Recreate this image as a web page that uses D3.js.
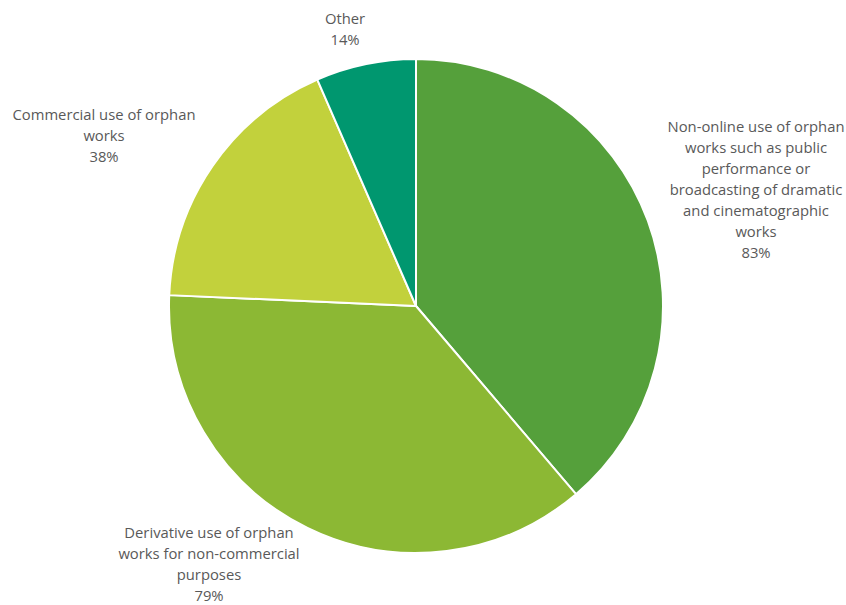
<!DOCTYPE html>
<html>
<head>
<meta charset="utf-8">
<script src="https://cdn.jsdelivr.net/npm/d3@7/dist/d3.min.js"></script>
<style>
html,body{margin:0;padding:0;background:#fff;}
text{font-family:"Open Sans","Liberation Sans",sans-serif;}
</style>
</head>
<body>
<svg id="chart" width="846" height="605"></svg>
<script>
const categories = [
  "Non-online use of orphan works such as public performance or broadcasting of dramatic and cinematographic works",
  "Derivative use of orphan works for non-commercial purposes",
  "Commercial use of orphan works",
  "Other"
];
const values = [83, 79, 38, 14];
const valueLabels = ["83%", "79%", "38%", "14%"];
const labelLines = [
  ["Non-online use of orphan", "works such as public", "performance or", "broadcasting of dramatic", "and cinematographic", "works"],
  ["Derivative use of orphan", "works for non-commercial", "purposes"],
  ["Commercial use of orphan", "works"],
  ["Other"]
];
const colors = ["#55A03B", "#8CB834", "#C2D13C", "#00976F"];

// layout
const cx = 416, cy = 306, r = 247;
const labelPos = [[756, 127], [209, 533], [104, 115], [345, 19]];
const lineH = 21;

const svg = d3.select("#chart");
const g = svg.append("g").attr("transform", `translate(${cx},${cy})`);
const pie = d3.pie().sort(null).value(d => d)(values);
const arc = d3.arc().innerRadius(0).outerRadius(r);

g.selectAll("path").data(pie).join("path")
  .attr("d", arc)
  .attr("fill", (d, i) => colors[i])
  .attr("stroke", "#fff")
  .attr("stroke-width", 2)
  .attr("stroke-linejoin", "round");

labelPos.forEach((p, i) => {
  const lines = labelLines[i].concat([valueLabels[i]]);
  const t = svg.append("text")
    .attr("text-anchor", "middle")
    .attr("fill", "#595959")
    .attr("font-size", 14.8);
  lines.forEach((l, j) => {
    t.append("tspan").attr("x", p[0]).attr("y", p[1] + j * lineH).attr("dy", "0.35em").text(l);
  });
});
</script>
</body>
</html>
